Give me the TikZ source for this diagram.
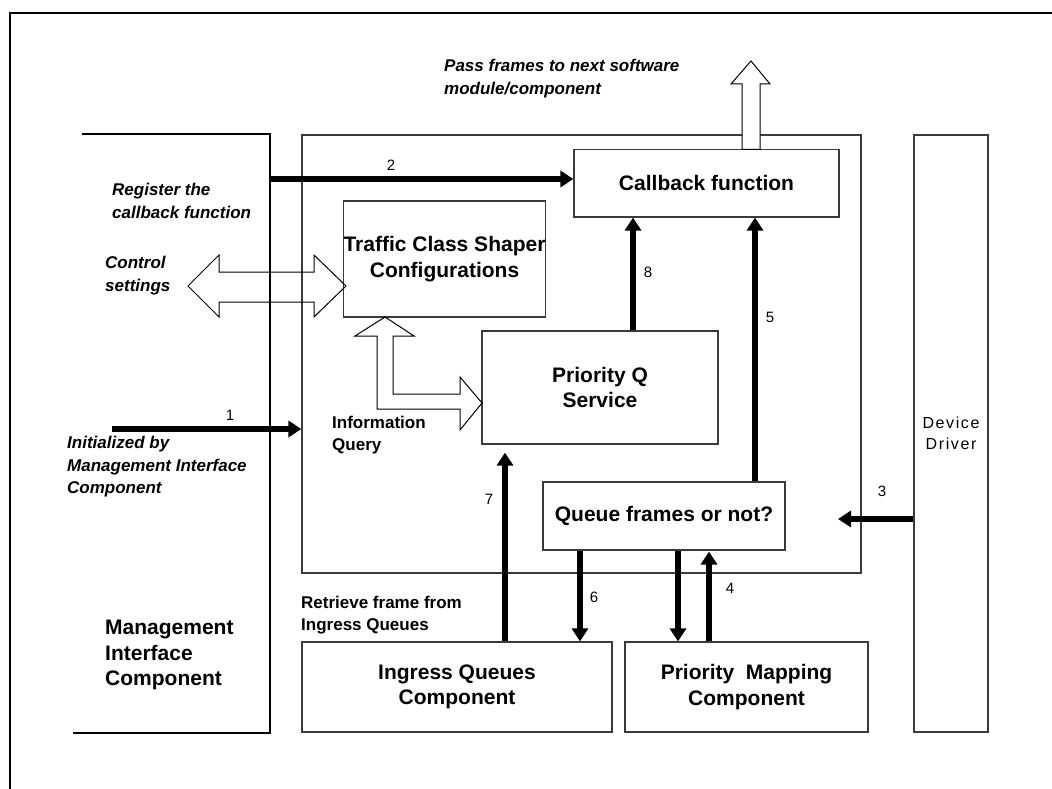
\documentclass[tikz,border=0pt]{standalone}
\usepackage{fontspec}
\setmainfont{Liberation Sans}
\newfontfamily\ddFace[LetterSpace=10]{Liberation Sans}
\usetikzlibrary{arrows.meta,calc}
\definecolor{boxgray}{HTML}{3A3A3A}
\newcommand{\dgBoxFont}{\fontsize{21}{25.5}\selectfont\bfseries}
\newcommand{\dgNoteFont}{\fontsize{17}{22.5}\selectfont\bfseries\itshape}
\newcommand{\dgPlainBold}{\fontsize{17}{22}\selectfont\bfseries}
\newcommand{\dgNumFont}{\fontsize{15}{18}\selectfont}

\begin{document}
\begin{tikzpicture}[x=1pt,y=-1pt,
  box/.style={draw=boxgray, line width=1.2pt, rectangle, inner sep=0pt,
    align=center, font=\dgBoxFont},
  flow/.style={line width=6.5pt, -{Triangle[length=13pt,width=16pt]}},
  hollow/.style={draw=black, line width=1pt, line join=miter},
  note/.style={anchor=west, align=left, inner sep=0pt, font=\dgNoteFont},
  plainnote/.style={anchor=west, align=left, inner sep=0pt, font=\dgPlainBold},
  num/.style={inner sep=0pt, font=\dgNumFont}
]
\useasboundingbox (0,0) rectangle (1052,789);
\fill[white] (0,0) rectangle (1052,789);

% page frame (left and top edges)
\draw[line width=2.2pt] (10,789) -- (10,13) -- (1052,13);

% management interface component (open on the left)
\draw[line width=2.6pt] (82,134) -- (270,134) -- (270,733) -- (73,733);
\coordinate (micedge) at (270,179);
\node[anchor=west, align=left, inner sep=0pt, font=\dgBoxFont] (mic) at (105,655)
  {Management\\Interface\\Component};

% main module boundary
\node[box, minimum width=559pt, minimum height=438pt] (main) at (581.5,354) {};

% inner blocks
\node[box, minimum width=265pt, minimum height=67.5pt] (cb)  at (706.5,183.25) {Callback function};
\node[box, minimum width=197pt, minimum height=116pt]  (tcs) at (444.5,259) {Traffic Class Shaper\\Configurations};
\node[box, minimum width=236pt, minimum height=113pt]  (pqs) at (600,387.5) {Priority Q\\Service};
\node[box, minimum width=242pt, minimum height=68pt]   (qf)  at (664,516) {Queue frames or not?};

% outer components
\node[box, minimum width=310pt, minimum height=90pt] (iq) at (457,687) {Ingress Queues\\Component};
\node[box, minimum width=243pt, minimum height=90pt] (pm) at (746.5,687) {Priority\ \ Mapping\\Component};
\node[box, minimum width=74pt, minimum height=597pt, font=\ddFace\fontsize{16}{21}\selectfont] (dd) at (951,433.5) {Device\\Driver};

% hollow block arrows
\draw[hollow] (188,286) -- (219,255) -- (219,272) -- (314,272) -- (314,255) -- (346,286)
  -- (314,317) -- (314,302) -- (219,302) -- (219,317) -- cycle;
\draw[hollow] (385,317) -- (414,336) -- (393,336) -- (393,394) -- (460,394) -- (460,377)
  -- (482,403) -- (460,430) -- (460,409) -- (377,409) -- (377,336) -- (355,336) -- cycle;
\filldraw[hollow, fill=white] (751,61) -- (770,84) -- (760,84) -- (760,149.5)
  -- (742,149.5) -- (742,84) -- (731,84) -- cycle;

% x positions of the vertical flows
\coordinate (x8) at (633,0);
\coordinate (x5) at (755,0);
\coordinate (x7) at (505,0);
\coordinate (x6) at (580,0);
\coordinate (xd) at (678,0);
\coordinate (x4) at (709,0);
\coordinate (in1) at (112,429);
\coordinate (tip3) at (838,519);

% solid flows
\draw[flow] (micedge) -- (micedge -| cb.west);
\draw[flow] (in1) -- (in1 -| main.west);
\draw[flow] (dd.west |- tip3) -- (tip3);
\draw[flow] (pqs.north -| x8) -- (cb.south -| x8);
\draw[flow] (qf.north -| x5) -- (cb.south -| x5);
\draw[flow, shorten >=8pt] (iq.north -| x7) -- (pqs.south -| x7);
\draw[flow] (qf.south -| x6) -- (iq.north -| x6);
\draw[flow] (qf.south -| xd) -- (pm.north -| xd);
\draw[flow, shorten >=1pt] (pm.north -| x4) -- (qf.south -| x4);

% flow numbers
\node[num] (n2) at (391,165) {2};
\node[num] (n1) at (230,415) {1};
\node[num] (n8) at (648,272) {8};
\node[num] (n5) at (770,317) {5};
\node[num] (n3) at (882,491) {3};
\node[num] (n7) at (489,499) {7};
\node[num] (n6) at (594,597) {6};
\node[num] (n4) at (730,588) {4};

% annotations
\node[note] (passnote) at (444,78.5) {Pass frames to next software\\module/component};
\node[note] (regnote) at (112,201) {Register the\\callback function};
\node[note] (ctrlnote) at (105,275.5) {Control\\settings};
\node[note] (initnote) at (67,467) {Initialized by\\Management Interface\\Component};
\node[plainnote] (infonote) at (332,435) {Information\\Query};
\node[plainnote] (retrnote) at (301,615) {Retrieve frame from\\Ingress Queues};
\end{tikzpicture}
\end{document}
